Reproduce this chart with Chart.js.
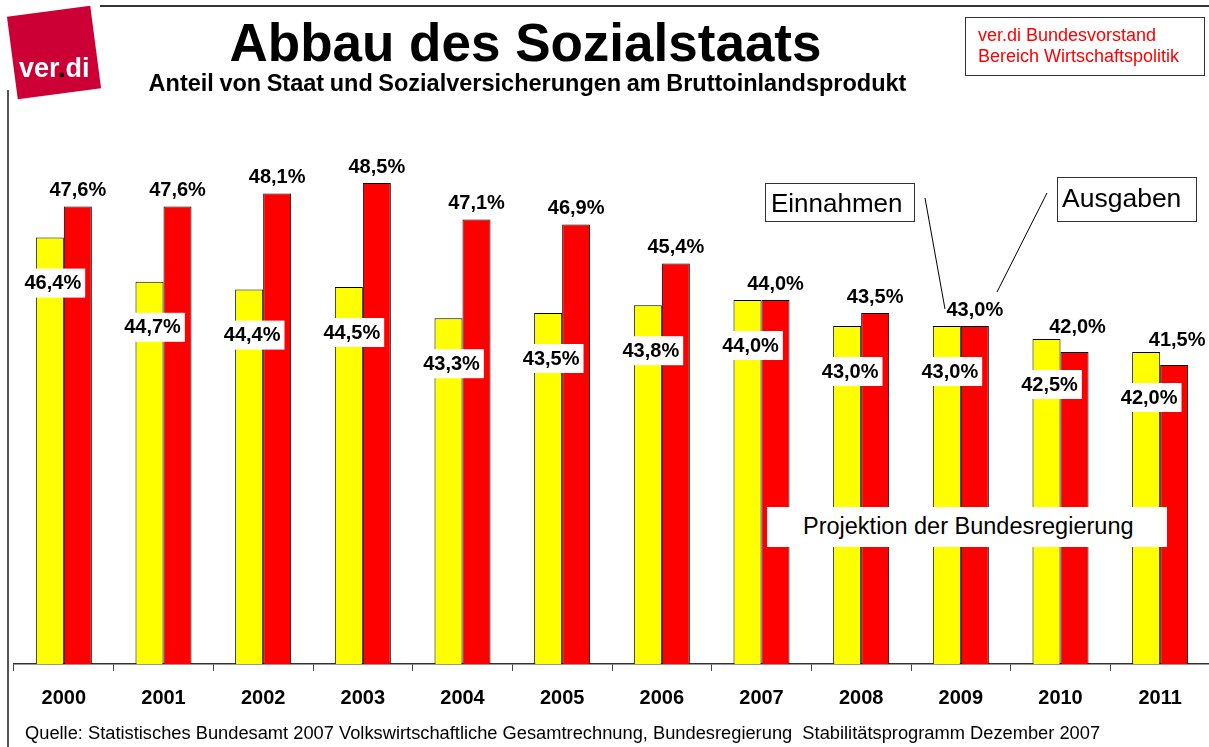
<!DOCTYPE html>
<html>
<head>
<meta charset="utf-8">
<script src="https://cdn.jsdelivr.net/npm/chart.js@4.4.1/dist/chart.umd.min.js"></script>
<style>
  html, body { margin: 0; padding: 0; background: #fff; }
  body { width: 1209px; height: 747px; overflow: hidden; position: relative; font-family: "Liberation Sans", Arial, sans-serif; }
  #c { position: absolute; left: 0; top: 0; }
  .t { position: absolute; white-space: nowrap; line-height: 1; }
  .box { position: absolute; box-sizing: border-box; }
</style>
</head>
<body>
<canvas id="c" width="1211" height="747"></canvas>

<!-- frame lines -->
<div class="box" style="left:100px;top:5px;width:1109px;height:2px;background:#333;"></div>
<div class="box" style="left:6.5px;top:90px;width:2px;height:657px;background:#555;"></div>

<!-- logo -->
<div class="box" style="left:12px;top:11px;width:84px;height:83px;background:#CC0035;transform:rotate(-7.5deg);"></div>
<div class="t" style="left:19px;top:55px;font-size:27px;font-weight:bold;color:#fff;">ver<span style="color:#000">.</span>di</div>

<!-- titles -->
<div class="t" style="left:0;width:1051px;text-align:center;top:16px;font-size:53px;font-weight:bold;color:#000;">Abbau des Sozialstaats</div>
<div class="t" style="left:0;width:1055px;text-align:center;top:72px;font-size:23.5px;font-weight:bold;color:#000;word-spacing:-1px;">Anteil von Staat und Sozialversicherungen am Bruttoinlandsprodukt</div>

<!-- source box -->
<div class="box" style="left:965px;top:17px;width:240px;height:59px;border:1.5px solid #333;"></div>
<div class="t" style="left:978px;top:25.5px;font-size:18px;color:#FF0000;">ver.di Bundesvorstand</div>
<div class="t" style="left:978px;top:47px;font-size:18px;color:#FF0000;">Bereich Wirtschaftspolitik</div>

<!-- annotation boxes -->
<div class="box" style="left:765px;top:183px;width:150px;height:39px;border:1.5px solid #333;background:#fff;"></div>
<div class="t" style="left:771px;top:190px;font-size:26px;color:#000;">Einnahmen</div>
<div class="box" style="left:1057px;top:177px;width:140px;height:45px;border:1.5px solid #333;background:#fff;"></div>
<div class="t" style="left:1062px;top:184.5px;font-size:26.5px;color:#000;">Ausgaben</div>
<div class="box" style="left:767px;top:507px;width:400px;height:40px;background:#fff;"></div>
<div class="t" style="left:803px;top:515px;font-size:23.5px;color:#000;">Projektion der Bundesregierung</div>

<!-- footer -->
<div class="t" style="left:25px;top:723.5px;font-size:18.3px;color:#000;">Quelle: Statistisches Bundesamt 2007 Volkswirtschaftliche Gesamtrechnung, Bundesregierung&nbsp; Stabilitätsprogramm Dezember 2007</div>

<script>
const years = ['2000','2001','2002','2003','2004','2005','2006','2007','2008','2009','2010','2011'];
const einnahmen = [46.4, 44.7, 44.4, 44.5, 43.3, 43.5, 43.8, 44.0, 43.0, 43.0, 42.5, 42.0];
const ausgaben  = [47.6, 47.6, 48.1, 48.5, 47.1, 46.9, 45.4, 44.0, 43.5, 43.0, 42.0, 41.5];

const FONT = '"Liberation Sans", Arial, sans-serif';
function fmt(v) { return v.toFixed(1).replace('.', ',') + '%'; }

const labelPlugin = {
  id: 'valueLabels',
  afterDatasetsDraw(chart) {
    const ctx = chart.ctx;
    const m0 = chart.getDatasetMeta(0);
    const m1 = chart.getDatasetMeta(1);
    ctx.save();
    ctx.font = 'bold 20px ' + FONT;
    ctx.textAlign = 'center';
    ctx.textBaseline = 'middle';
    m0.data.forEach((bar, i) => {
      const t = fmt(einnahmen[i]);
      const w = ctx.measureText(t).width;
      const cx = bar.x + 3, cy = bar.y + 46;
      ctx.fillStyle = '#fff';
      ctx.fillRect(cx - w / 2 - 4, cy - 15, w + 8, 29);
      ctx.fillStyle = '#000';
      ctx.fillText(t, cx, cy);
    });
    m1.data.forEach((bar, i) => {
      const t = fmt(ausgaben[i]);
      let cx = bar.x, cy = bar.y - 16;
      if (ausgaben[i] < einnahmen[i]) {
        cy = m0.data[i].y - 11.5;
        cx = bar.x + 3;
      }
      ctx.fillStyle = '#000';
      ctx.fillText(t, cx, cy);
    });
    // annotation leader lines
    ctx.strokeStyle = '#000';
    ctx.lineWidth = 1;
    ctx.beginPath();
    ctx.moveTo(925, 198); ctx.lineTo(945, 309);
    ctx.moveTo(1047, 193); ctx.lineTo(997, 292);
    ctx.stroke();
    ctx.restore();
  }
};

new Chart(document.getElementById('c'), {
  type: 'bar',
  data: {
    labels: years,
    datasets: [
      { label: 'Einnahmen', data: einnahmen, backgroundColor: '#FFFF00', borderColor: '#000', borderWidth: 1 },
      { label: 'Ausgaben', data: ausgaben, backgroundColor: '#FF0000', borderColor: '#000', borderWidth: 1 }
    ]
  },
  options: {
    responsive: false,
    animation: false,
    devicePixelRatio: 1,
    layout: { padding: { left: 14, top: 105, right: 1, bottom: 0 } },
    datasets: { bar: { categoryPercentage: 0.562, barPercentage: 1.0 } },
    plugins: { legend: { display: false }, tooltip: { enabled: false } },
    scales: {
      x: {
        afterFit(scale) { scale.height = 83; },
        grid: { display: true, drawOnChartArea: false, drawTicks: true, tickLength: 7, color: '#444', lineWidth: 1, offset: true },
        border: { display: true, color: '#333', width: 1.5 },
        ticks: { color: '#000', font: { family: FONT, size: 20, weight: 'bold' }, padding: 15, maxRotation: 0 }
      },
      y: { display: false, min: 30, max: 51.5 }
    }
  },
  plugins: [labelPlugin]
});
</script>
</body>
</html>
